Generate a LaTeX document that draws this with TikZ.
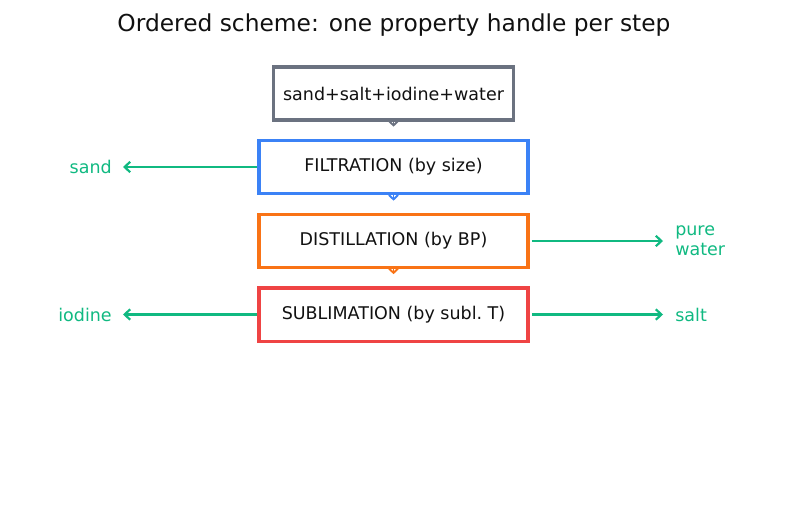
\documentclass[tikz,border=0pt]{standalone}
\usepackage{fontspec}
\setmainfont{DejaVu Sans}
\usetikzlibrary{positioning}
\usetikzlibrary{arrows.meta}
\definecolor{boxgray}{HTML}{6B7280}
\definecolor{boxblue}{HTML}{3B82F6}
\definecolor{boxorange}{HTML}{F97316}
\definecolor{boxred}{HTML}{EF4444}
\definecolor{outgreen}{HTML}{10B981}
\definecolor{inkdark}{HTML}{111111}

\begin{document}
\begin{tikzpicture}[x=0.72pt,y=-0.72pt]
    \tikzset{
    stepbox/.style={
        draw,
        line width=2.5pt,
        fill=white,
        minimum width=194pt,
        minimum height=38.5pt,
        text=inkdark,
        font=\fontsize{12.6}{15}\selectfont
    },
    flow/.style={
        line width=1.4pt,
        -{Straight Barb[length=3.2pt,width=6.5pt]},
        shorten >=8.5pt
    },
    product/.style={
        line width=1.6pt,
        -{Straight Barb[length=4pt,width=7.5pt]},
        outgreen
    },
    plabel/.style={
        text=outgreen,
        inner sep=0pt,
        font=\fontsize{12.6}{14.5}\selectfont,
        align=left
    }
}
        \useasboundingbox (0,0) rectangle (787,510);

        \node[text=inkdark, font=\fontsize{16.8}{19}\selectfont] (title) at (394,25) {Ordered scheme: one property handle per step};

        \node[stepbox, draw=boxgray, minimum width=173pt, minimum height=38pt] (mix) at (393.5,93.5) {sand+salt+iodine+water};

        \node[stepbox, draw=boxblue] (filt) at (393.5,167) {FILTRATION (by size)};

        \node[stepbox, draw=boxorange] (dist) at (393.5,241) {DISTILLATION (by BP)};

        \node[stepbox, draw=boxred] (subl) at (393.5,314.5) {SUBLIMATION (by subl.\ T)};

        \node[plabel, anchor=east] (sand) at (112,167) {sand};
        \node[plabel, anchor=west] (water) at (675,241) {pure\\water};
        \node[plabel, anchor=east] (iodine) at (112,314.5) {iodine};
        \node[plabel, anchor=west] (salt) at (675,314.5) {salt};

        \coordinate (sandend) at (123,167);
        \coordinate (waterend) at (663,241);
        \coordinate (iodineend) at (123,314.5);
        \coordinate (saltend) at (663,314.5);

        \draw [flow, boxgray] (mix) -- (filt);
        \draw [flow, boxblue] (filt) -- (dist);
        \draw [flow, boxorange] (dist) -- (subl);

        \draw [product] (filt.west) -- (sandend);
        \draw [product] (dist.east) ++(2,0) -- (waterend);
        \draw [product] (subl.west) -- (iodineend);
        \draw [product] (subl.east) ++(2,0) -- (saltend);
    \end{tikzpicture}
\end{document}
